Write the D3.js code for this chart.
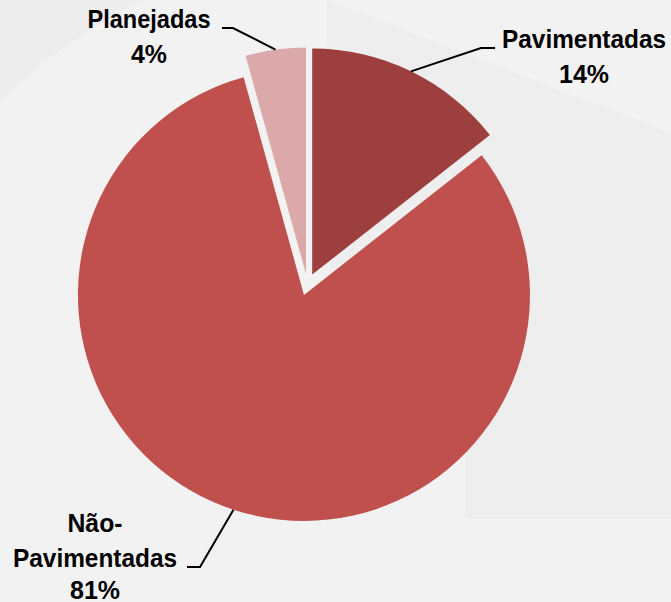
<!DOCTYPE html>
<html>
<head>
<meta charset="utf-8">
<script src="https://cdn.jsdelivr.net/npm/d3@7"></script>
<style>
  html, body { margin: 0; padding: 0; background: #f2f2f2; }
  svg { display: block; }
  .lbl { font-family: "Liberation Sans", Arial, sans-serif; font-weight: bold; font-size: 25px; fill: #000; }
</style>
</head>
<body>
<script>
// ---- data ----
const categories = ["Pavimentadas", "Não-Pavimentadas", "Planejadas"];
const values = [14.4, 81.3, 4.3];
const colors = ["#9e3f3f", "#c0504d", "#dba9a9"];
const labelLines = [["Pavimentadas"], ["Não-", "Pavimentadas"], ["Planejadas"]];
const pctLabels = ["14%", "81%", "4%"];

const W = 671, H = 602;
const svg = d3.select("body").append("svg").attr("width", W).attr("height", H);

// background
svg.append("rect").attr("width", W).attr("height", H).attr("fill", "#f2f2f2");
svg.append("path").attr("fill", "#ededed")
  .attr("d", "M0,0 L145,0 Q60,40 0,103 Z");
svg.append("path").attr("fill", "#eeeeee")
  .attr("d", "M327,0 L671,133 L671,519 L465,519 L465,457 L330,457 Z");

const cx = 307.4, cy = 284.5, R = 226, explode = 11;

const pie = d3.pie().sort(null).value(d => d)(values);
const arc = d3.arc().innerRadius(0).outerRadius(R);

function offset(d) {
  const a = (d.startAngle + d.endAngle) / 2;
  return [explode * Math.sin(a), -explode * Math.cos(a)];
}

const g = svg.append("g").attr("transform", `translate(${cx},${cy})`);
g.selectAll("path.slice").data(pie).enter().append("path")
  .attr("class", "slice")
  .attr("d", arc)
  .attr("fill", (d, i) => colors[i])
  .attr("transform", d => { const o = offset(d); return `translate(${o[0]},${o[1]})`; });

// label layout (elbow, end, text center x, first baseline)
const layout = [
  { elbow: [481, 48], end: [495, 48], tx: 584, ty: 48 },
  { elbow: [200, 567], end: [187, 567], tx: 95, ty: 532 },
  { elbow: [233, 28], end: [222, 28], tx: 149, ty: 28 }
];
const lineH = 35;
// rendered widths of label strings (Calibri-like narrow look)
const textW = { "Pavimentadas": 164, "Planejadas": 123, "Não-": 55, "14%": 50, "81%": 50, "4%": 36 };

pie.forEach((d, i) => {
  const a = (d.startAngle + d.endAngle) / 2;
  const o = offset(d);
  const sx = cx + o[0] + R * Math.sin(a);
  const sy = cy + o[1] - R * Math.cos(a);
  const L = layout[i];
  svg.append("path")
    .attr("d", d3.line()([[sx, sy], L.elbow, L.end]))
    .attr("fill", "none").attr("stroke", "#000").attr("stroke-width", 2);
  const lines = labelLines[i].concat([pctLabels[i]]);
  lines.forEach((s, k) => {
    svg.append("text").attr("class", "lbl").attr("text-anchor", "middle")
      .attr("x", L.tx).attr("y", Math.min(L.ty + k * lineH, 599))
      .attr("textLength", textW[s]).attr("lengthAdjust", "spacingAndGlyphs")
      .text(s);
  });
});
</script>
</body>
</html>
